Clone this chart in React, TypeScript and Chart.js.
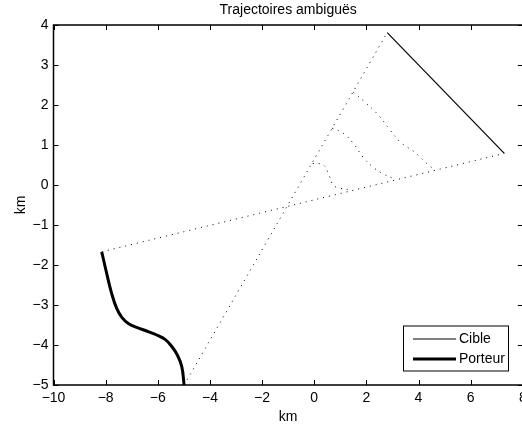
import React, { useEffect, useRef } from 'react';
import { Chart, registerables } from 'chart.js';

Chart.register(...registerables);

const FONT = "'Liberation Sans', Arial, Helvetica, sans-serif";

// Axes
const xTicks = [-10, -8, -6, -4, -2, 0, 2, 4, 6, 8];
const yTicks = [-5, -4, -3, -2, -1, 0, 1, 2, 3, 4];
const titleText = 'Trajectoires ambiguës';
const xLabel = 'km';
const yLabel = 'km';

// Cible (target) trajectory
const cibleX = [2.8, 7.29];
const cibleY = [3.81, 0.79];

// Porteur (carrier) trajectory
const porteurX = [-8.15, -7.96, -7.77, -7.58, -7.38, -7.13, -6.81, -6.43, -6.04, -5.72, -5.47, -5.25, -5.08, -4.99];
const porteurY = [-1.67, -2.21, -2.71, -3.08, -3.31, -3.46, -3.56, -3.65, -3.75, -3.86, -4.03, -4.25, -4.54, -5.0];

// Dotted lines of sight
const ligneAX = [-8.15, 7.29];
const ligneAY = [-1.67, 0.79];
const ligneBX = [-4.99, 2.8];
const ligneBY = [-5.0, 3.81];

// Dotted ambiguous arcs
const arc1X = [1.5, 1.88, 2.46, 2.91, 3.29, 3.87, 4.38, 4.63];
const arc1Y = [2.32, 2.11, 1.75, 1.375, 1.08, 0.81, 0.5, 0.38];
const arc2X = [0.69, 1.12, 1.5, 1.88, 2.27, 2.65, 3.1];
const arc2Y = [1.42, 1.29, 1.04, 0.69, 0.44, 0.275, 0.15];
const arc3X = [-0.06, 0.35, 0.54, 0.73, 0.99, 1.44];
const arc3Y = [0.54, 0.5, 0.29, 0.0, -0.08, -0.12];

const legendItems = [
  { label: 'Cible', width: 1.2 },
  { label: 'Porteur', width: 3 },
];

const pts = (xs: number[], ys: number[]) => xs.map((x, i) => ({ x, y: ys[i] }));

const fmt = (v: number) => String(v).replace('-', '\u2212');

const decor = {
  id: 'decor',
  afterDatasetsDraw(chart: any) {
    const { ctx, chartArea: a, scales } = chart;
    const x = scales.x;
    const y = scales.y;
    ctx.save();
    ctx.strokeStyle = '#000';
    ctx.lineWidth = 1;
    ctx.beginPath();
    for (const v of xTicks) {
      const px = Math.round(x.getPixelForValue(v)) + 0.5;
      ctx.moveTo(px, a.bottom);
      ctx.lineTo(px, a.bottom - 5);
      ctx.moveTo(px, a.top);
      ctx.lineTo(px, a.top + 5);
    }
    for (const v of yTicks) {
      const py = Math.round(y.getPixelForValue(v)) + 0.5;
      ctx.moveTo(a.left, py);
      ctx.lineTo(a.left + 5, py);
      ctx.moveTo(a.right, py);
      ctx.lineTo(a.right - 5, py);
    }
    ctx.stroke();
    ctx.lineWidth = 1.5;
    ctx.strokeRect(a.left, a.top, a.right - a.left, a.bottom - a.top);

    // Legend
    const lx = 403.5, ly = 326, lw = 105, lh = 45;
    ctx.fillStyle = '#fff';
    ctx.fillRect(lx, ly, lw, lh);
    ctx.lineWidth = 1;
    ctx.strokeRect(lx, ly, lw, lh);
    ctx.font = `14px ${FONT}`;
    ctx.textBaseline = 'middle';
    ctx.textAlign = 'left';
    ctx.fillStyle = '#000';
    legendItems.forEach((it, i) => {
      const yy = 339 + i * 20;
      ctx.lineWidth = it.width;
      ctx.beginPath();
      ctx.moveTo(413, yy);
      ctx.lineTo(456, yy);
      ctx.stroke();
      ctx.fillText(it.label, 459, yy);
    });

    // Titles
    const cx = (a.left + a.right) / 2;
    ctx.textAlign = 'center';
    ctx.textBaseline = 'alphabetic';
    ctx.fillText(titleText, cx, 14);
    ctx.fillText(xLabel, cx, 421);
    ctx.translate(25, (a.top + a.bottom) / 2);
    ctx.rotate(-Math.PI / 2);
    ctx.fillText(yLabel, 0, 0);
    ctx.restore();
  },
};

export default function App() {
  const ref = useRef<HTMLCanvasElement | null>(null);
  useEffect(() => {
    if (!ref.current) return;
    Chart.defaults.font.family = FONT;
    const dotted = (xs: number[], ys: number[]) => ({
      data: pts(xs, ys),
      showLine: true,
      borderColor: '#000',
      borderWidth: 1,
      borderDash: [1, 5],
      pointRadius: 0,
      tension: 0.4,
    });
    const chart = new Chart(ref.current, {
      type: 'scatter',
      data: {
        datasets: [
          dotted(ligneAX, ligneAY),
          dotted(ligneBX, ligneBY),
          dotted(arc1X, arc1Y),
          dotted(arc2X, arc2Y),
          dotted(arc3X, arc3Y),
          {
            label: 'Cible',
            data: pts(cibleX, cibleY),
            showLine: true,
            borderColor: '#000',
            borderWidth: 1.2,
            pointRadius: 0,
          },
          {
            label: 'Porteur',
            data: pts(porteurX, porteurY),
            showLine: true,
            borderColor: '#000',
            borderWidth: 3,
            pointRadius: 0,
            tension: 0.4,
          },
        ],
      },
      options: {
        animation: false,
        responsive: false,
        layout: { padding: { left: 0, right: 1.2, top: 25, bottom: 0 } },
        plugins: { legend: { display: false }, tooltip: { enabled: false }, title: { display: false } },
        scales: {
          x: {
            type: 'linear',
            min: -10,
            max: 8,
            grid: { display: false, drawTicks: false },
            border: { display: false },
            afterBuildTicks: (s: any) => { s.ticks = xTicks.map((v) => ({ value: v })); },
            afterFit: (s: any) => { s.height = 43; s.paddingLeft = 0; s.paddingRight = 0; },
            ticks: {
              autoSkip: false,
              maxRotation: 0,
              padding: 5,
              color: '#000',
              font: { size: 14, family: FONT },
              callback: (v: any) => fmt(Number(v)),
            },
          },
          y: {
            type: 'linear',
            min: -5,
            max: 4,
            grid: { display: false, drawTicks: false },
            border: { display: false },
            afterBuildTicks: (s: any) => { s.ticks = yTicks.map((v) => ({ value: v })); },
            afterFit: (s: any) => { s.width = 53.5; s.paddingTop = 0; s.paddingBottom = 0; },
            ticks: {
              autoSkip: false,
              padding: 5,
              color: '#000',
              font: { size: 14, family: FONT },
              callback: (v: any) => fmt(Number(v)),
            },
          },
        },
      },
      plugins: [decor],
    });
    return () => chart.destroy();
  }, []);
  return (
    <div style={{ position: 'fixed', left: 0, top: 0, width: 522, height: 428, overflow: 'hidden', background: '#fff' }}>
      <canvas ref={ref} width={524} height={428} style={{ display: 'block', width: 524, height: 428 }} />
    </div>
  );
}
